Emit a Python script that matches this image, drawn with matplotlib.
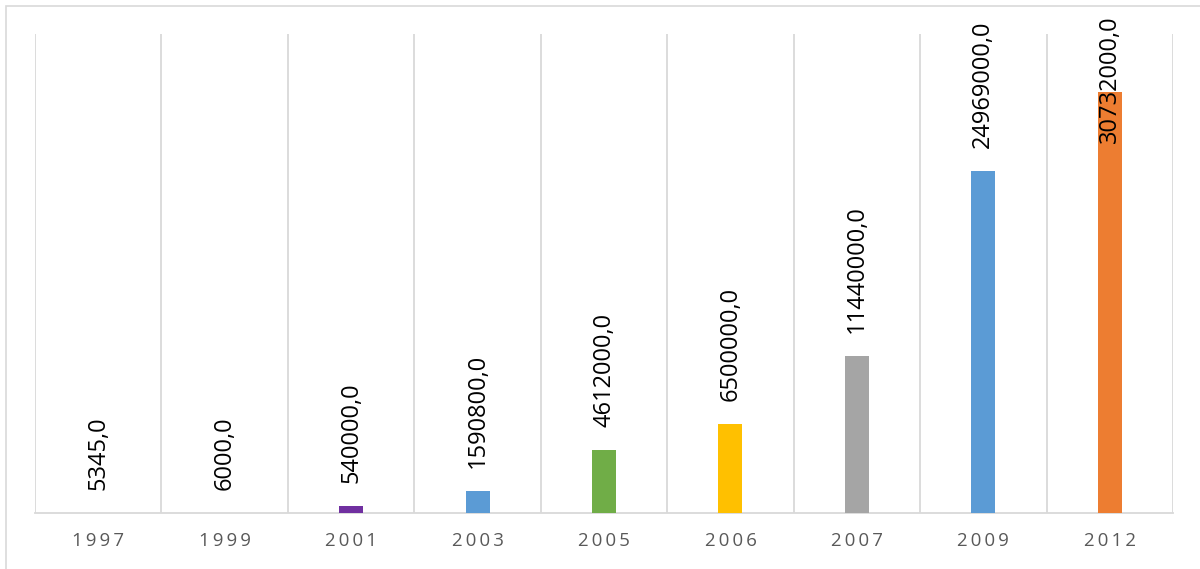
# coding=utf-8
# Bar chart of yearly values with rotated data labels
#
import matplotlib as mpl
mpl.use('Agg')
import matplotlib.pyplot as plt
from matplotlib.patches import Rectangle

years = ['1997', '1999', '2001', '2003', '2005', '2006', '2007', '2009', '2012']
values = [5345.0, 6000.0, 540000.0, 1590800.0, 4612000.0, 6500000.0, 11440000.0, 24969000.0, 30732000.0]
colors = ['#5B9BD5', '#ED7D31', '#7030A0', '#5B9BD5', '#70AD47', '#FFC000', '#A5A5A5', '#5B9BD5', '#ED7D31']

if __name__ == '__main__':

    W, H, dpi = 1200, 569, 100
    fig = plt.figure(figsize=(W / dpi, H / dpi), dpi=dpi)
    ax = fig.add_axes([35 / W, (H - 513) / H, (1173 - 35) / W, (513 - 34) / H])

    # Outer chart frame (left and top edges visible)
    fig.patches.append(Rectangle((5.5 / W, -0.2), 1.5, 1.2 - 5.5 / H, transform=fig.transFigure,
                                 fill=False, edgecolor='#d9d9d9', lw=1.2, zorder=0))

    x = list(range(len(years)))
    ax.bar(x, values, width=0.19, color=colors, zorder=3)

    ax.set_xlim(-0.5, len(years) - 0.5)
    ax.set_ylim(0, 35e6)

    # Category separators
    ax.set_xticks([i - 0.5 for i in range(len(years) + 1)], minor=True)
    ax.grid(which='minor', axis='x', color='#d9d9d9', lw=1.3, zorder=0)
    ax.tick_params(which='both', length=0)
    ax.set_xticks(x)
    ax.set_xticklabels(['\u2009'.join(y) for y in years], fontsize=13.4, color='#595959',
                       family=['Open Sans', 'DejaVu Sans'])
    ax.tick_params(axis='x', pad=14)
    ax.set_yticks([])
    for s in ['top', 'left', 'right']:
        ax.spines[s].set_visible(False)
    ax.spines['bottom'].set_color('#d9d9d9')
    ax.spines['bottom'].set_linewidth(1.3)

    # Data labels
    off = 23 * 72 / dpi
    labels = []
    for xi, v in zip(x, values):
        t = ax.annotate('{:.1f}'.format(v).replace('.', ','), xy=(xi, v), xytext=(0, off),
                        textcoords='offset points', rotation=90, ha='center', va='bottom',
                        fontsize=17, family=['Open Sans', 'DejaVu Sans'], color='black',
                        zorder=5, annotation_clip=False)
        labels.append(t)

    # keep labels inside chart area
    fig.canvas.draw()
    r = fig.canvas.get_renderer()
    limit = H - 15
    for t in labels:
        bb = t.get_window_extent(r)
        if bb.y1 > limit:
            t.xyann = (0, off - (bb.y1 - limit) * 72 / dpi)

    fig.savefig('out.png', dpi=dpi, facecolor='white')
    plt.close()
